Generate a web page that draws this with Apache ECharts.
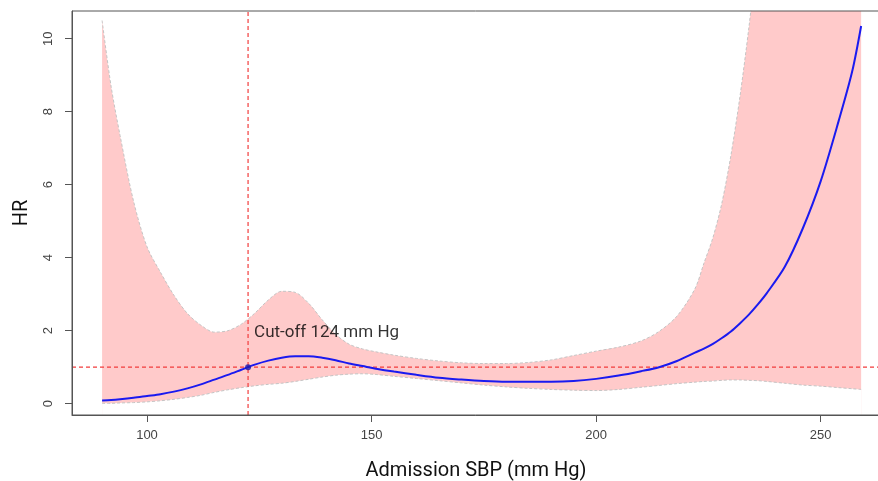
<!DOCTYPE html>
<html><head><meta charset="utf-8">
<script src="https://cdn.jsdelivr.net/npm/echarts@6/dist/echarts.min.js"></script>
<style>html,body{margin:0;padding:0;background:#fff}#c{width:878px;height:481px}</style>
</head><body><div id="c"></div>
<script>
// ---- data ----
const sbp = [90, 92, 94, 97, 100, 103, 106, 109, 112, 115, 118, 121, 124, 127, 130, 133, 136, 139, 142, 145, 148, 151, 155, 160, 165, 170, 175, 180, 185, 190, 195, 200, 205, 210, 214, 218, 222, 224, 226, 228, 230, 232, 234, 236, 238, 242, 246, 250, 254, 257, 259];
const hr = [0.09, 0.10, 0.12, 0.16, 0.21, 0.26, 0.33, 0.42, 0.53, 0.66, 0.79, 0.93, 1.07, 1.18, 1.26, 1.30, 1.30, 1.26, 1.19, 1.10, 1.03, 0.96, 0.88, 0.79, 0.71, 0.66, 0.62, 0.60, 0.60, 0.60, 0.62, 0.68, 0.77, 0.89, 1.00, 1.17, 1.40, 1.51, 1.64, 1.80, 1.98, 2.20, 2.44, 2.72, 3.03, 3.75, 4.80, 6.10, 7.75, 9.10, 10.35];
const lowerCI = [0.01, 0.01, 0.02, 0.03, 0.05, 0.08, 0.12, 0.17, 0.23, 0.31, 0.38, 0.44, 0.49, 0.53, 0.56, 0.61, 0.67, 0.73, 0.78, 0.81, 0.82, 0.80, 0.75, 0.69, 0.63, 0.57, 0.51, 0.46, 0.42, 0.39, 0.37, 0.36, 0.39, 0.45, 0.50, 0.55, 0.59, 0.61, 0.62, 0.64, 0.65, 0.65, 0.64, 0.63, 0.61, 0.56, 0.51, 0.48, 0.44, 0.41, 0.39];
const upperCI = [10.5, 8.7, 7.35, 5.55, 4.3, 3.6, 2.97, 2.47, 2.15, 1.96, 2.0, 2.18, 2.48, 2.84, 3.08, 3.05, 2.75, 2.3, 1.9, 1.63, 1.5, 1.42, 1.33, 1.24, 1.17, 1.12, 1.1, 1.1, 1.13, 1.2, 1.32, 1.44, 1.55, 1.72, 1.98, 2.4, 3.15, 3.85, 4.55, 5.5, 6.8, 8.4, 10.3, 12.5, 15, 21, 28, 37, 48, 58, 66];
const xTicks = [100, 150, 200, 250];
const yTicks = [0, 2, 4, 6, 8, 10];
const xRange = [83.3, 263.2];
const yRange = [-0.31, 10.76];
const cutoffSBP = 122.5;
const cutoffHR = 1.0;
const refHR = 1;
const cutoffLabel = 'Cut-off 124 mm Hg';
const xTitle = 'Admission SBP (mm Hg)';
const yTitle = 'HR';

// ---- build series data ----
const pairs = ys => sbp.map((x, i) => [x, ys[i]]);

const chart = echarts.init(document.getElementById('c'), null, {renderer: 'canvas'});
const axisColor = '#555';
const tickFont = 'Liberation Sans, Arial, sans-serif';
const titleFont = 'Roboto, "Noto Sans", sans-serif';
const refColor = '#f23c3c';
const refLineStyle = {color: refColor, width: 1.2, type: [4, 3], opacity: 1};
const SM = 0.3;

chart.setOption({
  animation: false,
  backgroundColor: '#fff',
  grid: {left: 72, top: 11, right: -2, bottom: 66, show: true, borderColor: axisColor, borderWidth: 1, containLabel: false, outerBoundsMode: 'none', z: 8},
  xAxis: {
    type: 'value', min: xRange[0], max: xRange[1], z: 8,
    axisLine: {show: true, onZero: false, lineStyle: {color: axisColor, width: 1}},
    axisTick: {show: true, customValues: xTicks, length: 7, inside: false, lineStyle: {color: axisColor}},
    axisLabel: {show: true, customValues: xTicks, fontSize: 13, color: '#444', margin: 14, fontFamily: tickFont},
    splitLine: {show: false},
    name: xTitle, nameLocation: 'middle', nameGap: 46,
    nameTextStyle: {fontSize: 20, color: '#111', fontFamily: titleFont}
  },
  yAxis: {
    type: 'value', min: yRange[0], max: yRange[1], z: 8,
    axisLine: {show: true, onZero: false, lineStyle: {color: axisColor, width: 1}},
    axisTick: {show: true, customValues: yTicks, length: 7, inside: false, lineStyle: {color: axisColor}},
    axisLabel: {show: true, customValues: yTicks, fontSize: 13, color: '#444', margin: 17, rotate: 90, fontFamily: tickFont},
    splitLine: {show: false},
    name: yTitle, nameLocation: 'middle', nameGap: 40, nameRotate: 90,
    nameTextStyle: {fontSize: 20, color: '#111', fontFamily: titleFont}
  },
  series: [
    // CI band: pink area under the upper limit, then white area under the lower limit
    {type: 'line', name: 'upperFill', data: pairs(upperCI), smooth: SM, showSymbol: false, symbol: 'none',
     lineStyle: {width: 0, opacity: 0}, areaStyle: {color: '#ffcaca', opacity: 1, origin: 'start'}, silent: true, z: 1, clip: true},
    {type: 'line', name: 'lowerFill', data: pairs(lowerCI), smooth: SM, showSymbol: false, symbol: 'none',
     lineStyle: {width: 0, opacity: 0}, areaStyle: {color: '#ffffff', opacity: 1, origin: 'start'}, silent: true, z: 1, clip: true},
    {type: 'line', name: 'upper', data: pairs(upperCI), smooth: SM, showSymbol: false, symbol: 'none',
     lineStyle: {width: 1, color: '#c4c4c4', type: [3, 2]}, silent: true, z: 2, clip: true},
    {type: 'line', name: 'lower', data: pairs(lowerCI), smooth: SM, showSymbol: false, symbol: 'none',
     lineStyle: {width: 1, color: '#c4c4c4', type: [3, 2]}, silent: true, z: 2, clip: true},
    // reference lines: cut-off SBP (vertical) and HR = 1 (horizontal)
    {type: 'line', name: 'cutoffLine', data: [[cutoffSBP, yRange[0]], [cutoffSBP, yRange[1]]], showSymbol: false, symbol: 'none',
     lineStyle: refLineStyle, color: refColor, silent: true, z: 3, clip: true},
    {type: 'line', name: 'refLine', data: [[xRange[0], refHR], [xRange[1], refHR]], showSymbol: false, symbol: 'none',
     lineStyle: refLineStyle, color: refColor, silent: true, z: 3, clip: true},
    {type: 'line', name: 'HR', data: pairs(hr), smooth: SM, showSymbol: false, symbol: 'none',
     lineStyle: {width: 2, color: '#1a1af0'}, silent: true, z: 4, clip: true},
    {type: 'scatter', name: 'cutoff', data: [[cutoffSBP, cutoffHR]], symbolSize: 6, itemStyle: {color: '#1a1ab0'}, z: 5, silent: true,
     label: {show: true, position: 'right', distance: 3, offset: [0, -34], formatter: cutoffLabel,
       fontSize: 17, color: '#000', fontFamily: titleFont, textBorderWidth: 0}}
  ]
});
</script>
</body></html>
